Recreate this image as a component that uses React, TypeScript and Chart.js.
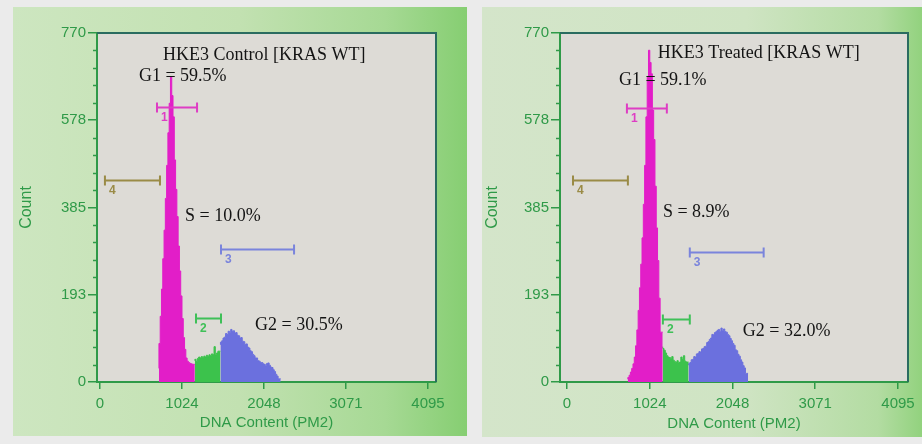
import React, { useEffect, useRef } from "react";
import { Chart, registerables } from "chart.js";
Chart.register(...registerables);

// ---------- data ----------
const X_TICKS = [0, 1024, 2048, 3071, 4095];
const Y_TICKS = [0, 193, 385, 578, 770];
const BIN = 16; // channel width of one histogram bin

// HKE3 Control [KRAS WT]
const controlTitle = "HKE3 Control [KRAS WT]";
const controlStart = 736;
const controlG1 = [30, 85, 145, 205, 272, 335, 405, 478, 550, 615, 673, 632, 585, 490, 425, 365, 300, 245, 190, 140, 98, 72, 53, 46, 43, 41, 40, 39];
const controlS = [47, 50, 45, 52, 55, 53, 56, 54, 57, 55, 59, 56, 60, 58, 62, 60, 78, 60, 64, 68];
const controlG2 = [82, 88, 91, 97, 99, 107, 105, 112, 110, 116, 112, 113, 108, 109, 103, 102, 97, 98, 90, 89, 83, 84, 77, 75, 69, 67, 61, 58, 53, 53, 47, 46, 43, 43, 40, 39, 36, 41, 42, 37, 33, 32, 27, 23, 17, 13, 7];
const controlPct = [59.5, 10.0, 30.5];

// HKE3 Treated [KRAS WT]
const treatedTitle = "HKE3 Treated [KRAS WT]";
const treatedStart = 752;
const treatedG1 = [6, 10, 15, 22, 30, 40, 55, 80, 115, 158, 208, 260, 318, 392, 478, 585, 672, 732, 705, 680, 600, 535, 432, 340, 268, 185, 110];
const treatedS = [78, 74, 70, 64, 58, 55, 54, 52, 56, 48, 45, 43, 47, 42, 44, 55, 50, 58, 46, 44];
const treatedG2 = [37, 41, 43, 49, 50, 56, 55, 62, 63, 67, 66, 73, 74, 78, 79, 87, 89, 94, 97, 105, 104, 109, 111, 114, 116, 111, 119, 113, 117, 111, 110, 105, 102, 96, 91, 85, 81, 71, 69, 61, 57, 49, 44, 36, 31, 19];
const treatedPct = [59.1, 8.9, 32.0];

const phaseNames = ["G1", "S", "G2"];

// gates (markers) 1..4
const gateIds = ["1", "2", "3", "4"];
const controlGateStart = [712, 1199, 1511, 62];
const controlGateEnd = [1212, 1511, 2423, 749];
const controlGateLevel = [607, 141, 293, 446];
const treatedGateStart = [741, 1186, 1519, 74];
const treatedGateEnd = [1235, 1519, 2433, 753];
const treatedGateLevel = [605, 139, 287, 446];

// ---------- styles ----------
const PHASE_COLORS = ["#e21ec8", "#3cc24c", "#6b70de"];
const GATE_COLORS = ["#de3dc4", "#3fc058", "#7a84dc", "#9a8b46"];
const AXIS_GREEN = "#2f9a48";
const FRAME = "#2a6c60";
const PLOT_BG = "#dddbd6";
const SANS = '"Liberation Sans", Arial, sans-serif';
const SERIF = '"Liberation Serif", "Times New Roman", serif';

function buildSegments(start: number, phases: number[][]) {
  let s = start;
  return phases.map((arr) => {
    const pts = arr.map((v, i) => ({ x: s + i * BIN, y: v }));
    pts.push({ x: s + arr.length * BIN, y: arr[arr.length - 1] });
    s += arr.length * BIN;
    return pts;
  });
}

type Cfg = {
  W: number;
  H: number;
  box: { left: number; right: number; top: number; bottom: number };
  xMin: number;
  xMax: number;
  start: number;
  phases: number[][];
  gateStart: number[];
  gateEnd: number[];
  gateLevel: number[];
  title: string;
  pct: number[];
  textPos: { x: number; y: number }[]; // title, G1, S, G2 in data units (left edge, middle)
  yTitlePad: number;
};

function Histogram({ cfg }: { cfg: Cfg }) {
  const ref = useRef<HTMLCanvasElement>(null);
  useEffect(() => {
    const canvas = ref.current!;
    const segs = buildSegments(cfg.start, cfg.phases);
    const deco = {
      id: "deco",
      beforeDraw(chart: any) {
        const { ctx, chartArea: a } = chart;
        ctx.save();
        ctx.fillStyle = PLOT_BG;
        ctx.fillRect(a.left, a.top, a.right - a.left, a.bottom - a.top);
        ctx.restore();
      },
      afterDraw(chart: any) {
        const { ctx, chartArea: a } = chart;
        const xs = chart.scales.x;
        const ys = chart.scales.y;
        ctx.save();
        // frame top & right
        ctx.strokeStyle = FRAME;
        ctx.lineWidth = 2;
        ctx.beginPath();
        ctx.moveTo(a.left, a.top);
        ctx.lineTo(a.right, a.top);
        ctx.lineTo(a.right, a.bottom);
        ctx.stroke();
        // minor y ticks
        ctx.strokeStyle = AXIS_GREEN;
        ctx.lineWidth = 1.5;
        const yMax = Y_TICKS[Y_TICKS.length - 1];
        for (let i = 1; i < 20; i++) {
          if (i % 5 === 0) continue;
          const py = Math.round(ys.getPixelForValue((yMax * i) / 20)) + 0.5;
          ctx.beginPath();
          ctx.moveTo(a.left - 4, py);
          ctx.lineTo(a.left, py);
          ctx.stroke();
        }
        // gates
        gateIds.forEach((id, i) => {
          const x1 = xs.getPixelForValue(cfg.gateStart[i]);
          const x2 = xs.getPixelForValue(cfg.gateEnd[i]);
          const y = Math.round(ys.getPixelForValue(cfg.gateLevel[i])) + 0.5;
          ctx.strokeStyle = GATE_COLORS[i];
          ctx.lineWidth = 2;
          ctx.beginPath();
          ctx.moveTo(x1, y);
          ctx.lineTo(x2, y);
          ctx.moveTo(x1, y - 5);
          ctx.lineTo(x1, y + 5);
          ctx.moveTo(x2, y - 5);
          ctx.lineTo(x2, y + 5);
          ctx.stroke();
          ctx.fillStyle = GATE_COLORS[i];
          ctx.font = `bold 12px ${SANS}`;
          ctx.textAlign = "left";
          ctx.textBaseline = "middle";
          ctx.fillText(id, x1 + 4, y + 10);
        });
        // texts
        ctx.fillStyle = "#141414";
        ctx.font = `18px ${SERIF}`;
        ctx.textAlign = "left";
        ctx.textBaseline = "middle";
        const labels = [
          cfg.title,
          ...phaseNames.map((n, i) => `${n} = ${cfg.pct[i].toFixed(1)}%`),
        ];
        labels.forEach((t, i) => {
          const p = cfg.textPos[i];
          ctx.fillText(t, xs.getPixelForValue(p.x), ys.getPixelForValue(p.y));
        });
        ctx.restore();
      },
    };
    const chart = new Chart(canvas, {
      type: "line",
      data: {
        datasets: segs.map((pts, i) => ({
          data: pts,
          stepped: "after" as const,
          fill: "origin",
          backgroundColor: PHASE_COLORS[i],
          borderColor: PHASE_COLORS[i],
          borderWidth: 1,
          pointRadius: 0,
        })),
      },
      options: {
        responsive: false,
        animation: false,
        devicePixelRatio: 1,
        events: [],
        layout: {
          padding: { left: 0, top: cfg.box.top, right: cfg.W - cfg.box.right, bottom: 0 },
        },
        plugins: {
          legend: { display: false },
          tooltip: { enabled: false },
          title: { display: false },
        },
        scales: {
          x: {
            type: "linear",
            min: cfg.xMin,
            max: cfg.xMax,
            afterBuildTicks: (ax: any) => {
              ax.ticks = X_TICKS.map((v) => ({ value: v }));
            },
            afterFit: (ax: any) => {
              ax.height = cfg.H - cfg.box.bottom;
            },
            ticks: {
              autoSkip: false,
              maxRotation: 0,
              padding: 6,
              color: AXIS_GREEN,
              font: { family: SANS, size: 15 },
              callback: (v: any) => `${v}`,
            },
            grid: {
              drawOnChartArea: false,
              drawTicks: true,
              tickLength: 7,
              color: AXIS_GREEN,
              lineWidth: 1.5,
            },
            border: { display: true, color: AXIS_GREEN, width: 2 },
            title: {
              display: true,
              text: "DNA Content (PM2)",
              color: AXIS_GREEN,
              font: { family: SANS, size: 15 },
              padding: { top: 0, bottom: 4 },
            },
          },
          y: {
            type: "linear",
            min: Y_TICKS[0],
            max: Y_TICKS[Y_TICKS.length - 1],
            afterBuildTicks: (ax: any) => {
              ax.ticks = Y_TICKS.map((v) => ({ value: v }));
            },
            afterFit: (ax: any) => {
              ax.width = cfg.box.left;
            },
            ticks: {
              autoSkip: false,
              padding: 2,
              color: AXIS_GREEN,
              font: { family: SANS, size: 15 },
              callback: (v: any) => `${v}`,
            },
            grid: {
              drawOnChartArea: false,
              drawTicks: true,
              tickLength: 9,
              color: AXIS_GREEN,
              lineWidth: 1.5,
            },
            border: { display: true, color: AXIS_GREEN, width: 2 },
            title: {
              display: true,
              text: "Count",
              color: AXIS_GREEN,
              font: { family: SANS, size: 16 },
              padding: { top: cfg.yTitlePad, bottom: 4 },
            },
          },
        },
      } as any,
      plugins: [deco],
    });
    return () => chart.destroy();
  }, [cfg]);
  return (
    <canvas
      ref={ref}
      width={cfg.W}
      height={cfg.H}
      style={{ display: "block", width: cfg.W, height: cfg.H }}
    />
  );
}

const controlCfg: Cfg = {
  W: 454,
  H: 429,
  box: { left: 84, right: 423, top: 26, bottom: 375 },
  xMin: -37,
  xMax: 4195,
  start: controlStart,
  phases: [controlG1, controlS, controlG2],
  gateStart: controlGateStart,
  gateEnd: controlGateEnd,
  gateLevel: controlGateLevel,
  title: controlTitle,
  pct: controlPct,
  textPos: [
    { x: 787, y: 721 },
    { x: 487, y: 675 },
    { x: 1062, y: 366 },
    { x: 1936, y: 126 },
  ],
  yTitlePad: 4,
};

const treatedCfg: Cfg = {
  W: 440,
  H: 430,
  box: { left: 78, right: 426, top: 26, bottom: 375 },
  xMin: -87,
  xMax: 4219,
  start: treatedStart,
  phases: [treatedG1, treatedS, treatedG2],
  gateStart: treatedGateStart,
  gateEnd: treatedGateEnd,
  gateLevel: treatedGateLevel,
  title: treatedTitle,
  pct: treatedPct,
  textPos: [
    { x: 1124, y: 726 },
    { x: 642, y: 666 },
    { x: 1186, y: 375 },
    { x: 2174, y: 113 },
  ],
  yTitlePad: 1,
};

export default function App() {
  return (
    <div
      style={{
        position: "fixed",
        left: 0,
        top: 0,
        width: 922,
        height: 444,
        background: "#ebebeb",
        overflow: "hidden",
      }}
    >
      <div
        style={{
          position: "absolute",
          left: 13,
          top: 7,
          width: 454,
          height: 429,
          background:
            "linear-gradient(90deg, #cde6c0 0%, #c2e1b1 50%, #a6d994 82%, #86ce72 100%)",
        }}
      >
        <Histogram cfg={controlCfg} />
      </div>
      <div
        style={{
          position: "absolute",
          left: 482,
          top: 7,
          width: 440,
          height: 430,
          background:
            "linear-gradient(90deg, #d4e5ca 0%, #cfe4c3 60%, #b3dca2 90%, #92d27e 100%)",
        }}
      >
        <Histogram cfg={treatedCfg} />
      </div>
    </div>
  );
}
